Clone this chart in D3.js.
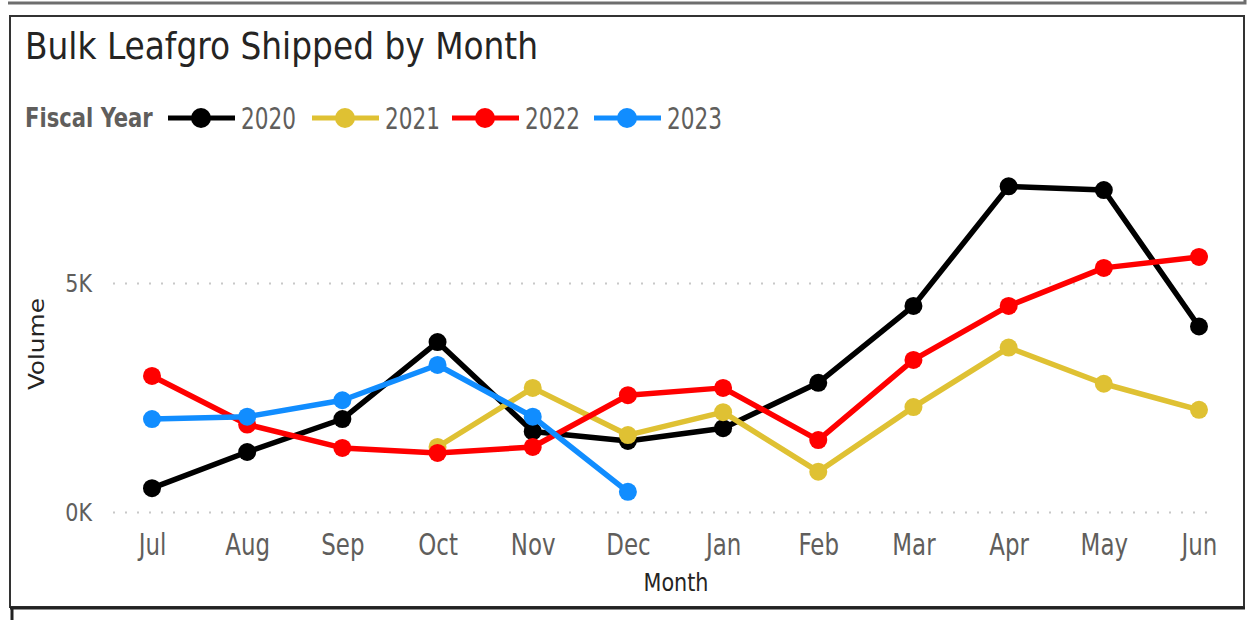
<!DOCTYPE html>
<html>
<head>
<meta charset="utf-8">
<script src="https://cdn.jsdelivr.net/npm/d3@7"></script>
<style>
  body { margin: 0; background: #fff; }
  svg { display: block; }
  text { font-family: "DejaVu Sans Condensed", "DejaVu Sans", sans-serif; }
</style>
</head>
<body>
<svg id="chart" width="1248" height="620"></svg>
<script>
// données
let months = ["Jul", "Aug", "Sep", "Oct", "Nov", "Dec", "Jan", "Feb", "Mar", "Apr", "May", "Jun"];
let years = ["2020", "2021", "2022", "2023"];
let colors = ["#000000", "#DFC133", "#FF0000", "#118DFF"];
let vol2020 = [520, 1310, 2030, 3710, 1760, 1550, 1830, 2820, 4500, 7110, 7030, 4050];
let vol2021 = [null, null, null, 1420, 2710, 1680, 2180, 880, 2290, 3590, 2800, 2230];
let vol2022 = [2970, 1910, 1400, 1290, 1420, 2550, 2710, 1570, 3320, 4500, 5330, 5570];
let vol2023 = [2030, 2080, 2440, 3210, 2080, 440, null, null, null, null, null, null];
let yTicks = [0, 5000];

let series = [vol2020, vol2021, vol2022, vol2023];

let svg = d3.select("#chart");

// le texte de la capture est un peu étiré en hauteur
function stretched(parent, x, y, sy) {
  return parent.append("text")
    .attr("transform", "translate(" + x + "," + y + ") scale(1," + sy + ")");
}

// cadres
svg.append("path")
  .attr("d", "M8,3 H1245 V0")
  .attr("fill", "none").attr("stroke", "#6e6e6e").attr("stroke-width", 3);
svg.append("rect")
  .attr("x", 10).attr("y", 16).attr("width", 1234).attr("height", 591)
  .attr("fill", "#fff").attr("stroke", "#333").attr("stroke-width", 2);
svg.append("path")
  .attr("d", "M10,608 H1245 M12,608 V620")
  .attr("fill", "none").attr("stroke", "#222").attr("stroke-width", 3);

// titre
stretched(svg, 25, 59, 1.03)
  .attr("font-size", 36.5).attr("fill", "#252423")
  .text("Bulk Leafgro Shipped by Month");

let x = d3.scalePoint().domain(months).range([152, 1199]);
let y = d3.scaleLinear().domain([0, 5000]).range([512, 283]);

// légende
let legend = svg.append("g").attr("transform", "translate(0,118)");
stretched(legend, 25, 0, 1.15)
  .attr("dy", "0.35em")
  .attr("font-size", 23.5).attr("font-weight", "bold").attr("fill", "#605E5C")
  .text("Fiscal Year");
let legendX = [168, 312, 452, 594];
years.forEach(function(yr, i) {
  let g = legend.append("g").attr("transform", "translate(" + legendX[i] + ",0)");
  g.append("line").attr("x1", 0).attr("x2", 67)
    .attr("stroke", colors[i]).attr("stroke-width", 5);
  g.append("circle").attr("cx", 33).attr("r", 10).attr("fill", colors[i]);
  stretched(g, 73, 0, 1.25).attr("dy", "0.35em")
    .attr("font-size", 24).attr("fill", "#605E5C")
    .text(yr);
});

// grille et axes
let yAxis = svg.append("g").attr("transform", "translate(113,0)")
  .call(d3.axisLeft(y).tickValues(yTicks).tickSize(-1102)
    .tickFormat(function(d) { return (d / 1000) + "K"; }));
yAxis.select(".domain").remove();
yAxis.selectAll(".tick line")
  .attr("stroke", "#c8c8c8").attr("stroke-width", 2).attr("stroke-dasharray", "2,10");
yAxis.selectAll(".tick text")
  .attr("x", 0).attr("dy", "0.33em")
  .attr("transform", "translate(-21,0) scale(1,1.1)")
  .attr("font-size", 23).attr("fill", "#605E5C")
  .attr("font-family", "DejaVu Sans Condensed");

let xAxis = svg.append("g").attr("transform", "translate(0,530)")
  .call(d3.axisBottom(x).tickSize(0));
xAxis.select(".domain").remove();
xAxis.selectAll(".tick text")
  .attr("y", 0).attr("dy", "0.36em")
  .attr("transform", "translate(0,14) scale(1,1.2)")
  .attr("font-size", 25.5).attr("fill", "#605E5C")
  .attr("font-family", "DejaVu Sans Condensed");

stretched(svg, 676, 591, 1.1)
  .attr("text-anchor", "middle")
  .attr("font-size", 22).attr("fill", "#252423")
  .attr("textLength", 65).attr("lengthAdjust", "spacingAndGlyphs")
  .text("Month");
svg.append("text")
  .attr("transform", "translate(44,344) rotate(-90)").attr("text-anchor", "middle")
  .attr("font-size", 22).attr("fill", "#252423")
  .attr("textLength", 92).attr("lengthAdjust", "spacingAndGlyphs")
  .text("Volume");

// lignes
let line = d3.line()
  .defined(function(d) { return d != null; })
  .x(function(d, i) { return x(months[i]); })
  .y(function(d) { return y(d); });

series.forEach(function(vals, i) {
  svg.append("path")
    .datum(vals)
    .attr("d", line)
    .attr("fill", "none").attr("stroke", colors[i]).attr("stroke-width", 5.5)
    .attr("stroke-linejoin", "round");
  svg.append("g").selectAll("circle")
    .data(vals.map(function(v, j) { return { m: months[j], v: v }; }).filter(function(d) { return d.v != null; }))
    .enter().append("circle")
    .attr("cx", function(d) { return x(d.m); })
    .attr("cy", function(d) { return y(d.v); })
    .attr("r", 9)
    .attr("fill", colors[i]);
});
</script>
</body>
</html>
